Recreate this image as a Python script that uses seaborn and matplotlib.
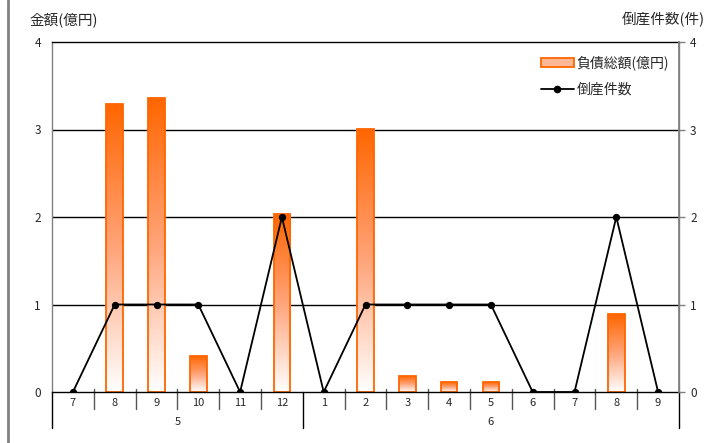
import numpy as np
import pandas as pd
import matplotlib
matplotlib.use("Agg")
import matplotlib.pyplot as plt
from matplotlib.lines import Line2D
from matplotlib.patches import Patch
import seaborn as sns

# Monthly data: fiscal year labels, month labels, liabilities (100M yen), bankruptcy count
years = ["5"] * 6 + ["6"] * 9
months = ["7", "8", "9", "10", "11", "12", "1", "2", "3", "4", "5", "6", "7", "8", "9"]
debt = [0, 3.29, 3.36, 0.41, 0, 2.03, 0, 3.01, 0.18, 0.11, 0.11, 0, 0, 0.89, 0]
counts = [0, 1, 1, 1, 0, 2, 0, 1, 1, 1, 1, 0, 0, 2, 0]

left_label = "金額(億円)"
right_label = "倒産件数(件)"
bar_name = "負債総額(億円)"
line_name = "倒産件数"

sns.set_theme()
sns.set_style("white")
plt.rcParams["font.family"] = ["Noto Sans CJK JP", "DejaVu Sans"]

keys = [f"{y}-{m}" for y, m in zip(years, months)]
df = pd.DataFrame({"key": keys, "month": months, "debt": debt, "count": counts})
n = len(df)

W, H = 707, 443
fig = plt.figure(figsize=(W / 100, H / 100), dpi=100)
x0, x1, y0, y1 = 52, 679, 42, 392
ax = fig.add_axes([x0 / W, 1 - y1 / H, (x1 - x0) / W, (y1 - y0) / H])
ax_h = y1 - y0

ORANGE = "#FF6600"

# horizontal grid
for v in [1, 2, 3]:
    ax.axhline(v, color="black", lw=1.0, zorder=0.5)

sns.barplot(data=df, x="key", y="debt", order=keys, width=0.4, ax=ax,
            color=ORANGE, edgecolor=ORANGE, linewidth=1.3, saturation=1,
            zorder=2)

# vertical orange-to-white fill for each bar
grad = np.linspace(0, 1, 256).reshape(-1, 1)
cmap = matplotlib.colors.LinearSegmentedColormap.from_list(
    "fade", ["#FFFFFF", "#FFA47A", ORANGE])
for p in list(ax.patches):
    h = p.get_height()
    if h <= 0:
        p.set_visible(False)
        continue
    bx, by, bw = p.get_x(), p.get_y(), p.get_width()
    im = ax.imshow(grad, cmap=cmap, aspect="auto", origin="lower",
                   extent=[bx, bx + bw, by, by + h], zorder=2.1,
                   interpolation="bilinear")
    im.set_clip_path(p)
    p.set_facecolor("none")
    p.set_zorder(2.2)

ax.set_xlim(-0.5, n - 0.5)
ax.set_ylim(0, 4)
ax.set_yticks([0, 1, 2, 3, 4])
ax.set_yticklabels(["0", "1", "2", "3", "4"], fontsize=8.5)
ax.tick_params(axis="y", length=0, pad=8)
ax.set_xticks(range(n))
ax.set_xticklabels(months, fontsize=8)
ax.tick_params(axis="x", length=0, pad=4)
ax.set_xlabel("")
ax.set_ylabel("")

for side in ["left", "right"]:
    ax.spines[side].set_color("#808080")
    ax.spines[side].set_linewidth(1.0)
for side in ["top", "bottom"]:
    ax.spines[side].set_color("black")
    ax.spines[side].set_linewidth(1.0)

# count line on secondary axis
ax2 = ax.twinx()
sns.lineplot(x=np.arange(n), y=df["count"], ax=ax2, color="black", lw=1.3,
             marker="o", markersize=4.5, markeredgecolor="black", zorder=5)
ax2.set_ylim(0, 4)
ax2.set_xlim(-0.5, n - 0.5)
ax2.set_yticks([0, 1, 2, 3, 4])
ax2.set_yticklabels(["0", "1", "2", "3", "4"], fontsize=8.5)
ax2.tick_params(axis="y", length=4, width=1, color="#808080", pad=4)
ax2.set_ylabel("")
for side in ["left", "top", "bottom"]:
    ax2.spines[side].set_visible(False)
ax2.spines["right"].set_color("#808080")

# category separators below the axis
tr = ax.get_xaxis_transform()
for i in range(1, n):
    if years[i] != years[i - 1]:
        continue
    ax.plot([i - 0.5, i - 0.5], [3 / ax_h, -17 / ax_h], transform=tr,
            color="#555555", lw=1.0, clip_on=False)

# year group separators and labels
bounds = [0] + [i for i in range(1, n) if years[i] != years[i - 1]] + [n]
for b in bounds:
    ax.plot([b - 0.5, b - 0.5], [0, -36 / ax_h], transform=tr,
            color="black", lw=1.0, clip_on=False)
for s, e in zip(bounds[:-1], bounds[1:]):
    ax.text((s + e - 1) / 2, -30 / ax_h, years[s], transform=tr,
            ha="center", va="center", fontsize=8)

# axis titles
fig.text(30 / W, 1 - 20 / H, left_label, ha="left", va="center", fontsize=10.5)
fig.text(705 / W, 1 - 20 / H, right_label, ha="right", va="center", fontsize=10.5)

# legend
handles = [
    Patch(facecolor="#FFB895", edgecolor=ORANGE, linewidth=1.3),
    Line2D([], [], color="black", lw=1.3, marker="o", markersize=4.5),
]
ax2.legend(handles, [bar_name, line_name], loc="upper right",
           bbox_to_anchor=(1.0, 0.99), frameon=False, fontsize=10,
           handlelength=2.4, handleheight=0.6, handletextpad=0.2,
           labelspacing=0.9, borderaxespad=0.3)

# left frame edge
fig.add_artist(Line2D([8 / W, 8 / W], [0, 1], color="#808080", lw=2,
                      transform=fig.transFigure))

fig.savefig("out.png", dpi=100)
